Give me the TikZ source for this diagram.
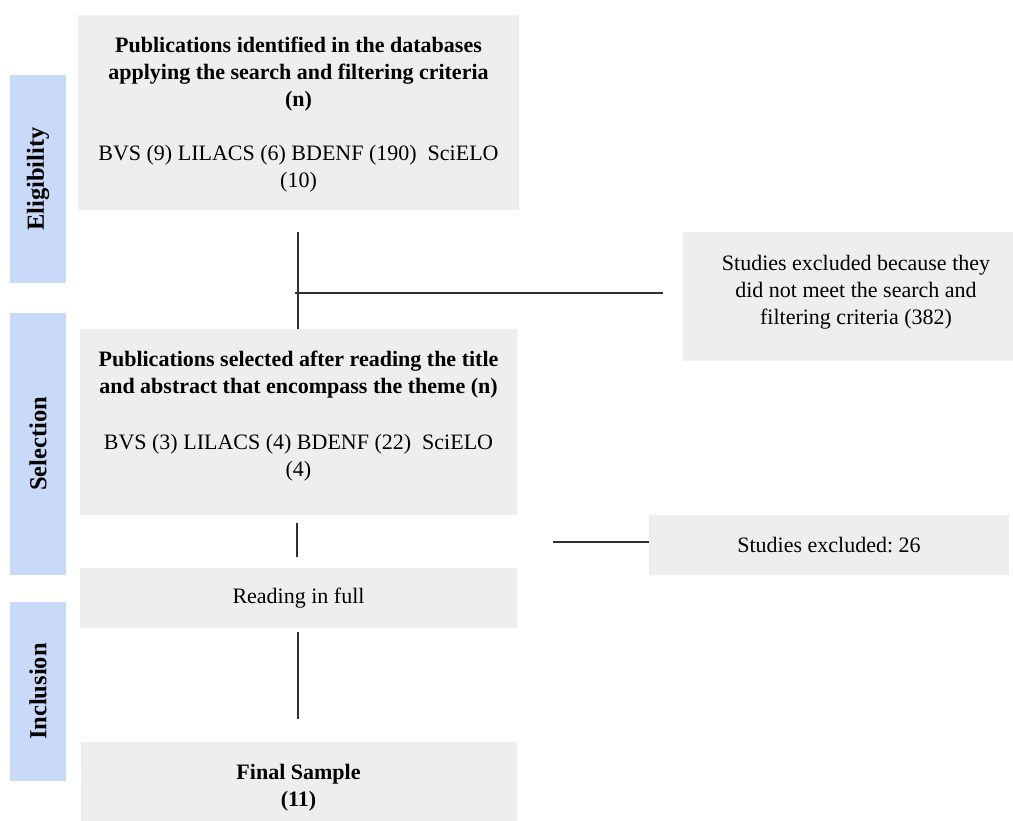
\documentclass[tikz,border=0pt]{standalone}
\usepackage{fontspec}
\setmainfont{Liberation Serif}
\usepackage{tikz}
\usetikzlibrary{positioning, calc}
\definecolor{phasecolor}{HTML}{C9DAF8}
\definecolor{boxcolor}{HTML}{EEEEEE}
\definecolor{linecolor}{HTML}{303030}
\frenchspacing

\begin{document}
\begin{tikzpicture}[
    x=1pt, y=-1pt,
    box/.style={fill=boxcolor, align=center, inner sep=0pt, font=\fontsize{22}{27}\selectfont},
    boxlabel/.style={align=center, inner sep=0pt, font=\fontsize{22}{27}\selectfont},
    phase/.style={fill=phasecolor, rotate=90, minimum height=56pt, inner sep=0pt, font=\fontsize{24.5}{27}\selectfont\bfseries},
    link/.style={draw=linecolor, line width=1.1pt}
]
    \useasboundingbox (0,0) rectangle (1013,821);

    % Phases
    \node[phase, minimum width=208pt] (elig) at (38,179) {Eligibility};
    \node[phase, minimum width=262pt] (sel) at (38,444) {Selection};
    \node[phase, minimum width=179pt] (incl) at (38,691.5) {Inclusion};

    % Main boxes
    \node[box, minimum width=441pt, minimum height=195pt,
        label={[boxlabel, yshift=-2pt]center:{\textbf{Publications identified in the databases}\\
         \textbf{applying the search and filtering criteria}\\
         \textbf{(n)}\\[27pt]
         BVS (9) LILACS (6) BDENF (190)\ \ SciELO\\(10)}}] (ident) at (298.5,112.5) {};
    \node[box, minimum width=437pt, minimum height=186pt, below=119pt of ident,
        label={[boxlabel, yshift=6pt]center:{\textbf{Publications selected after reading the title}\\
         \textbf{and abstract that encompass the theme (n)}\\[29pt]
         BVS (3) LILACS (4) BDENF (22)\ \ SciELO\\(4)}}] (select) {};
    \node[box, minimum width=437pt, minimum height=60pt, below=52pt of select] (full)
        {Reading in full};
    \node[box, minimum width=436pt, minimum height=79pt, below=114pt of full,
        label={[boxlabel, yshift=-6pt]center:{\textbf{Final Sample}\\\textbf{(11)}}}] (final) {};

    % Exclusions
    \node[box, minimum width=330pt, minimum height=129pt, at={(848,296.5)},
        label={[boxlabel, xshift=8pt, yshift=4pt]center:{Studies excluded because they\\did not meet the search and\\filtering criteria (382)}}] (excl1) {};
    \node[box, minimum width=360pt, minimum height=60pt] (excl2) at (829,545)
        {Studies excluded: 26};

    % Lines
    \coordinate (v1) at (298,232);
    \coordinate (h1a) at (295,293);
    \coordinate (h1b) at (663,293);
    \coordinate (v2a) at (297,523);
    \coordinate (v2b) at (297,557);
    \coordinate (h2) at (553,542);
    \coordinate (v3a) at (298,632);
    \coordinate (v3b) at (298,719);

    \draw[link] (v1) -- (v1 |- select.north);
    \draw[link] (h1a) -- (h1b);
    \draw[link] (v2a) -- (v2b);
    \draw[link] (h2) -- (h2 -| excl2.west);
    \draw[link] (v3a) -- (v3b);
\end{tikzpicture}
\end{document}
